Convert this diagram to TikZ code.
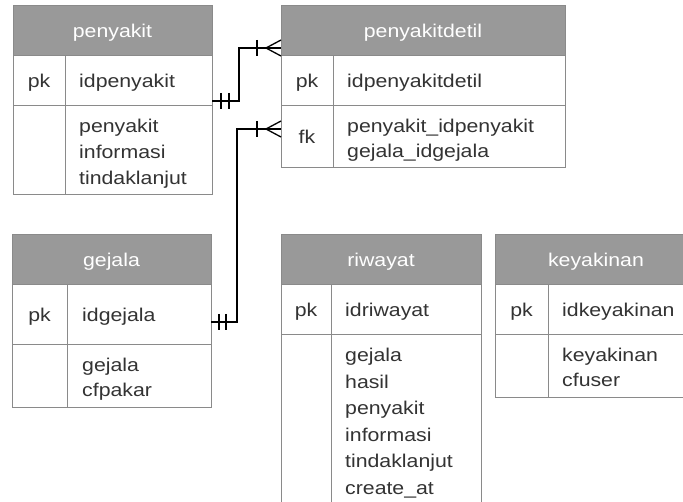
\documentclass[tikz,border=0pt]{standalone}
\usepackage{fontspec}
\newfontfamily\erfontfam[FakeStretch=1.15]{Liberation Sans}
\newcommand\erfont{\erfontfam\fontsize{18.5}{26}\selectfont}
\definecolor{hdrfill}{HTML}{999999}
\definecolor{edge}{HTML}{8A8A8A}
\definecolor{ink}{HTML}{333333}

\tikzset{
  headbox/.style={draw=edge, fill=hdrfill, line width=1pt},
  cellbox/.style={draw=edge, fill=white, line width=1pt},
  colline/.style={draw=edge, line width=1pt},
  title/.style={text=white, anchor=base, inner sep=0pt, font=\erfont},
  keytag/.style={text=ink, anchor=base, inner sep=0pt, font=\erfont},
  field/.style={text=ink, anchor=base west, inner sep=0pt, font=\erfont},
  link/.style={draw=black, line width=1.3pt},
}

\begin{document}
\begin{tikzpicture}[x=1pt, y={(0pt,-1pt)}]
\clip (0,0) rectangle (683,502);
\fill[white] (0,0) rectangle (683,502);

% ---- penyakit ----
\draw[headbox] (13,6) rectangle (212,56);
\draw[cellbox] (13,56) rectangle (212,106);
\draw[cellbox] (13,106) rectangle (212,195);
\draw[colline] (65,56) -- (65,195);
\node[title] (penyakit-title) at (112.5,38) {penyakit};
\node[keytag] (penyakit-pk) at (39,88) {pk};
\node[field] (penyakit-id) at (79,88) {idpenyakit};
\foreach \t [count=\i from 0] in {penyakit,informasi,tindaklanjut}
  \node[field] (penyakit-f\i) at (79,133+26*\i) {\t};

% ---- penyakitdetil ----
\draw[headbox] (281,6) rectangle (565,56);
\draw[cellbox] (281,56) rectangle (565,106);
\draw[cellbox] (281,106) rectangle (565,168);
\draw[colline] (333,56) -- (333,168);
\node[title] (detil-title) at (423,38) {penyakitdetil};
\node[keytag] (detil-pk) at (307,88) {pk};
\node[field] (detil-id) at (347,88) {idpenyakitdetil};
\node[keytag] (detil-fk) at (307,144) {fk};
\node[field] (detil-f0) at (347,133) {penyakit\_idpenyakit};
\node[field] (detil-f1) at (347,158) {gejala\_idgejala};

% ---- gejala ----
\draw[headbox] (12,235) rectangle (211,285);
\draw[cellbox] (12,285) rectangle (211,345);
\draw[cellbox] (12,345) rectangle (211,408);
\draw[colline] (67,285) -- (67,408);
\node[title] (gejala-title) at (111.5,267) {gejala};
\node[keytag] (gejala-pk) at (39.5,322) {pk};
\node[field] (gejala-id) at (82,322) {idgejala};
\node[field] (gejala-f0) at (82,372) {gejala};
\node[field] (gejala-f1) at (82,397) {cfpakar};

% ---- riwayat ----
\draw[headbox] (281,235) rectangle (481,285);
\draw[cellbox] (281,285) rectangle (481,335);
\draw[cellbox] (281,335) rectangle (481,515);
\draw[colline] (331,285) -- (331,515);
\node[title] (riwayat-title) at (381,267) {riwayat};
\node[keytag] (riwayat-pk) at (306,317) {pk};
\node[field] (riwayat-id) at (345,317) {idriwayat};
\foreach \t [count=\i from 0] in {gejala,hasil,penyakit,informasi,tindaklanjut,create\_at}
  \node[field] (riwayat-f\i) at (345,362+26.4*\i) {\t};

% ---- keyakinan ----
\draw[headbox] (495,235) rectangle (697,285);
\draw[cellbox] (495,285) rectangle (697,335);
\draw[cellbox] (495,335) rectangle (697,398);
\draw[colline] (548,285) -- (548,398);
\node[title] (keyakinan-title) at (596,267) {keyakinan};
\node[keytag] (keyakinan-pk) at (521.5,317) {pk};
\node[field] (keyakinan-id) at (562,317) {idkeyakinan};
\node[field] (keyakinan-f0) at (562,362) {keyakinan};
\node[field] (keyakinan-f1) at (562,387) {cfuser};

% ---- relationships (one-and-only-one to one-or-many) ----
\coordinate (penyakit-out) at (212,101);
\coordinate (detil-in1) at (281,48);
\draw[link] (penyakit-out) -- ++(27,0) |- (detil-in1);
\draw[link] (penyakit-out) ++(9,-8) -- ++(0,16);
\draw[link] (penyakit-out) ++(17,-8) -- ++(0,16);
\draw[link] (detil-in1) ++(-24,-8) -- ++(0,16);
\draw[link] (detil-in1) ++(-15,0) -- ++(15,-8);
\draw[link] (detil-in1) ++(-15,0) -- ++(15,8);

\coordinate (gejala-out) at (211,322);
\coordinate (detil-in2) at (281,129);
\draw[link] (gejala-out) -- ++(26,0) |- (detil-in2);
\draw[link] (gejala-out) ++(8,-8) -- ++(0,16);
\draw[link] (gejala-out) ++(15,-8) -- ++(0,16);
\draw[link] (detil-in2) ++(-24,-8) -- ++(0,16);
\draw[link] (detil-in2) ++(-15,0) -- ++(15,-8);
\draw[link] (detil-in2) ++(-15,0) -- ++(15,8);
\end{tikzpicture}
\end{document}
